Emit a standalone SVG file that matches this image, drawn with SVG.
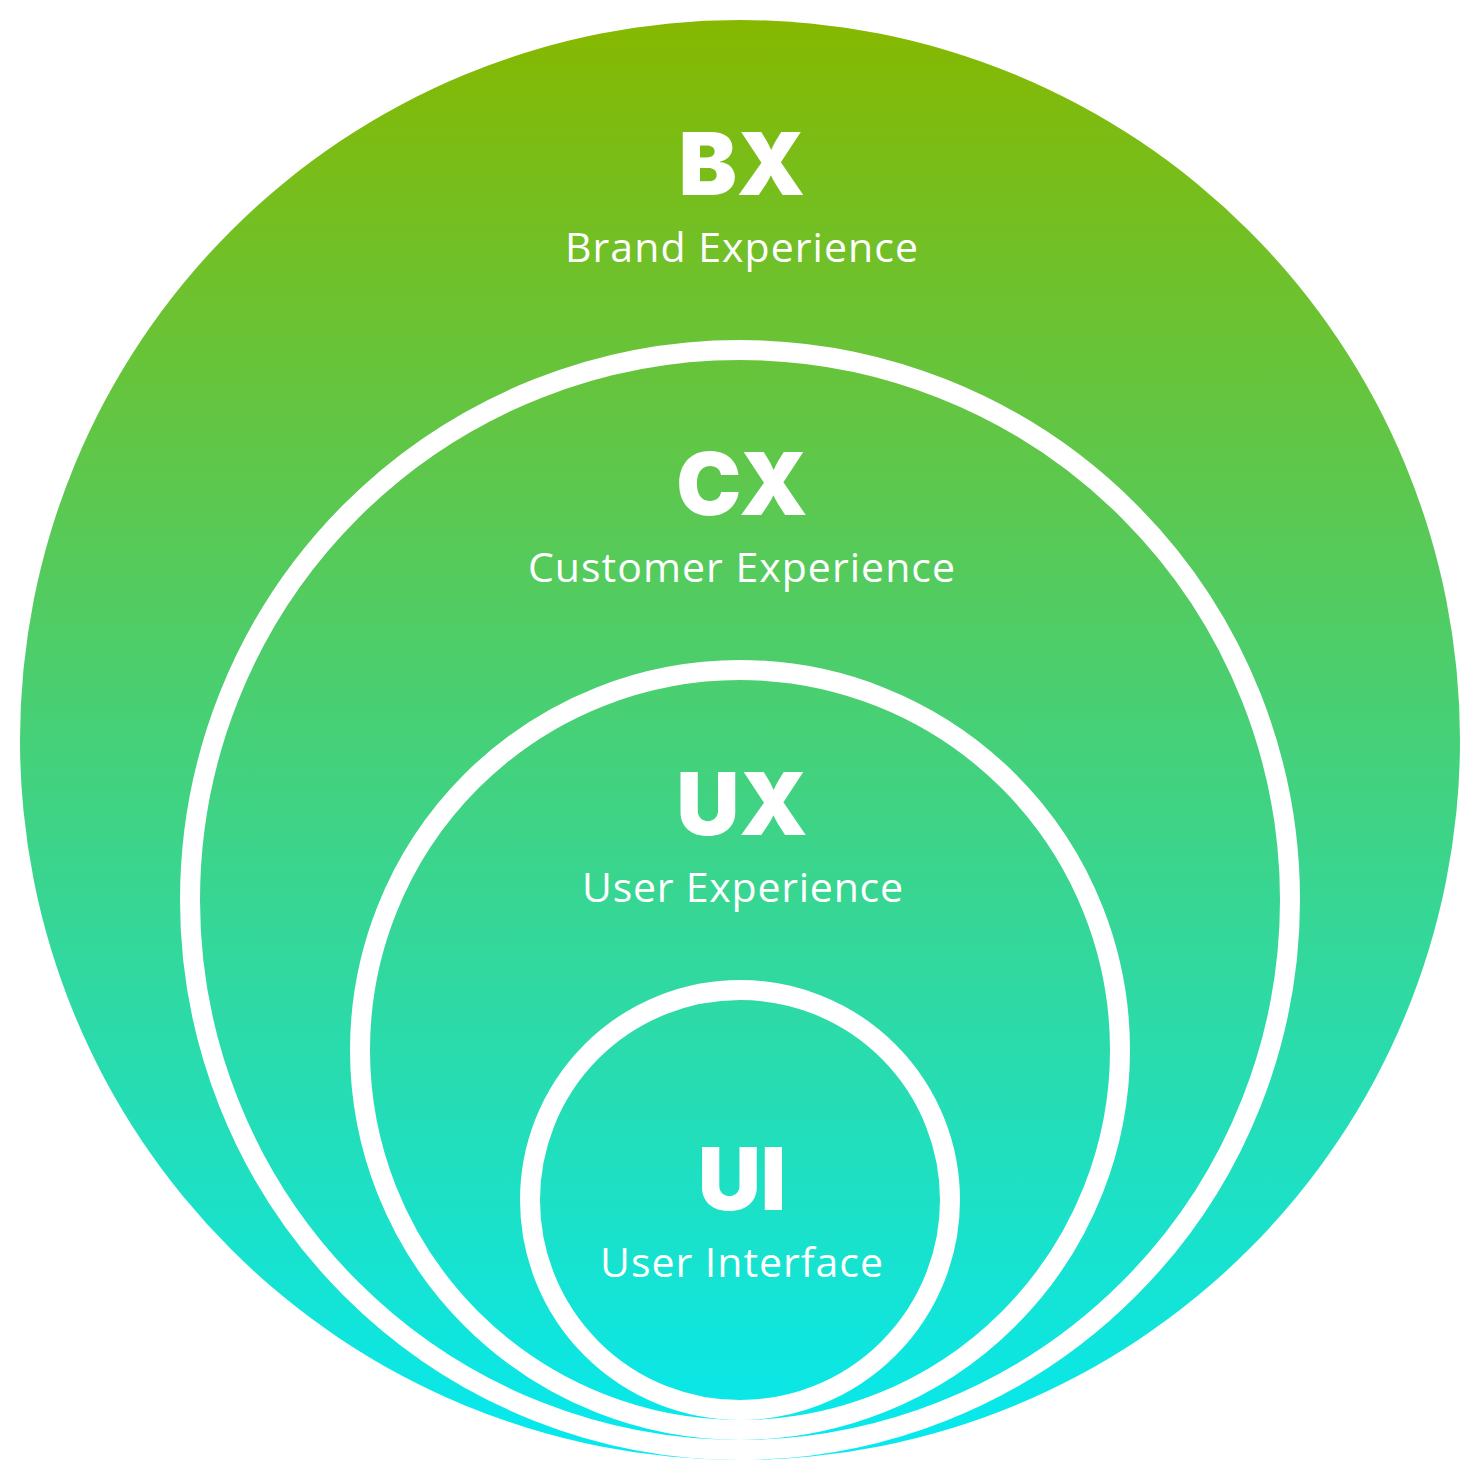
<svg xmlns="http://www.w3.org/2000/svg" width="1480" height="1480" viewBox="0 0 1480 1480">
  <defs>
    <linearGradient id="g" gradientUnits="userSpaceOnUse" x1="0" y1="20" x2="0" y2="1460">
      <stop offset="0" stop-color="#86b800"/>
      <stop offset="1" stop-color="#05e9f1"/>
    </linearGradient>
  </defs>
  <style>
    .ring { fill: url(#g); stroke: #ffffff; stroke-width: 20; }
    .title { font-family: Inter, Roboto, "Liberation Sans", sans-serif; font-weight: 900; font-size: 87px; fill: #ffffff; text-anchor: middle; }
    .sub { font-family: "Open Sans", Roboto, "Liberation Sans", sans-serif; font-weight: 400; font-size: 41px; fill: #ffffff; text-anchor: middle; }
  </style>
  <rect width="1480" height="1480" fill="#ffffff"/>
  <g id="bx">
    <circle cx="740" cy="740" r="720" fill="url(#g)"/>
    <text class="title" x="742" y="195">BX</text>
    <text class="sub" x="741.5" y="262" textLength="353" lengthAdjust="spacing">Brand Experience</text>
  </g>
  <g id="cx">
    <circle class="ring" cx="740" cy="900" r="550"/>
    <text class="title" x="742" y="515">CX</text>
    <text class="sub" x="741.5" y="582" textLength="427" lengthAdjust="spacing">Customer Experience</text>
  </g>
  <g id="ux">
    <circle class="ring" cx="740" cy="1050" r="380"/>
    <text class="title" x="742" y="835">UX</text>
    <text class="sub" x="742.5" y="902" textLength="321" lengthAdjust="spacing">User Experience</text>
  </g>
  <g id="ui">
    <circle class="ring" cx="740" cy="1200" r="210"/>
    <text class="title" x="742" y="1210">UI</text>
    <text class="sub" x="741.5" y="1277" textLength="283" lengthAdjust="spacing">User Interface</text>
  </g>
  <g id="connectors"/>
</svg>
